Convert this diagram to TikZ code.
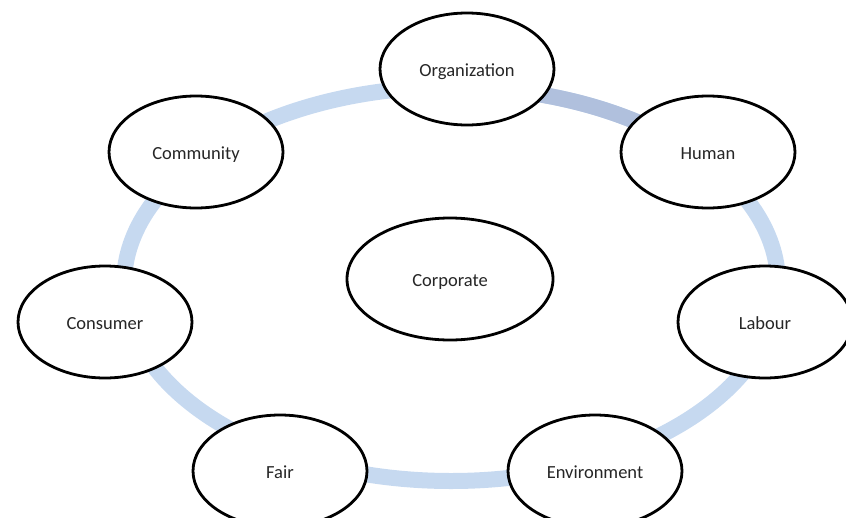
\documentclass[tikz,border=0pt]{standalone}
\usepackage{fontspec}
\setmainfont{Carlito}
\usetikzlibrary{shapes.geometric}
\definecolor{ringlight}{RGB}{198,217,240}
\definecolor{ringdark}{RGB}{176,192,221}
\definecolor{txt}{RGB}{38,38,38}
\tikzset{
  x=1pt,y=-1pt,
  bubble/.style={ellipse,draw=black,line width=2.8pt,fill=white,inner sep=0pt,
    minimum width=174pt,minimum height=112pt,font=\fontsize{18.5}{20}\selectfont,text=txt,
    text height=14pt,text depth=0pt},
  ring/.style={line width=16pt,draw=ringlight},
}
\begin{document}
\begin{tikzpicture}
\useasboundingbox (0,0) rectangle (846,517);
\clip (0,0) rectangle (846,517);
\coordinate (rc) at (451,284);
\draw[ring] (rc) ellipse [x radius=327pt, y radius=197pt];
\draw[ring,draw=ringdark] (rc) ++(85:327pt and 197pt) arc [start angle=85,end angle=38,x radius=327pt,y radius=197pt];
\node[bubble] (org) at (467,69) {Organization};
\node[bubble] (hum) at (708,152) {Human};
\node[bubble] (lab) at (765,322) {Labour};
\node[bubble] (env) at (595,471) {Environment};
\node[bubble] (fair) at (280,471) {Fair};
\node[bubble] (con) at (105,322) {Consumer};
\node[bubble] (com) at (196,152) {Community};
\node[bubble,minimum width=206pt,minimum height=122pt] (corp) at (450,279) {Corporate};
\end{tikzpicture}
\end{document}
